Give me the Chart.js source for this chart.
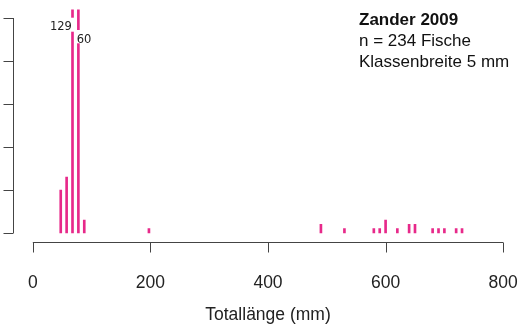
<!DOCTYPE html>
<html>
<head>
<meta charset="utf-8">
<script src="https://cdn.jsdelivr.net/npm/chart.js@4/dist/chart.umd.min.js"></script>
<style>
  html, body { margin: 0; padding: 0; background: #ffffff; }
  #wrap { width: 526px; height: 328px; position: relative; }
</style>
</head>
<body>
<div id="wrap"><canvas id="chart"></canvas></div>
<script>
// Length classes (class midpoints, mm) and number of fish per class
const lengthsMm = [47.5, 57.5, 67.5, 77.5, 87.5, 197.5, 490, 530, 580, 590, 600, 620, 640, 650, 680, 690, 700, 720, 730];
const fishCounts = [10, 13, 129, 60, 3, 1, 2, 1, 1, 1, 3, 1, 2, 2, 1, 1, 1, 1, 1];
const xTickValues = [0, 200, 400, 600, 800];
const yTickValues = [0, 10, 20, 30, 40, 50];
const headerLines = ['Zander 2009', 'n = 234 Fische', 'Klassenbreite 5 mm'];
const xTitle = 'Totallänge (mm)';

const BAR_COLOR = '#E7298A';
const AXIS_COLOR = '#444444';
const TEXT_COLOR = '#222222';
const FONT = '"Liberation Sans", Arial, Helvetica, sans-serif';

// Axis lines and tick marks that span only the tick range
const axesPlugin = {
  id: 'rAxes',
  afterDraw(chart) {
    const { ctx, chartArea, scales } = chart;
    const xs = scales.x, ys = scales.y;
    ctx.save();
    ctx.strokeStyle = AXIS_COLOR;
    ctx.lineWidth = 1;
    // x axis
    const yb = Math.round(chartArea.bottom) + 0.5;
    ctx.beginPath();
    ctx.moveTo(xs.getPixelForValue(xTickValues[0]), yb);
    ctx.lineTo(xs.getPixelForValue(xTickValues[xTickValues.length - 1]), yb);
    xTickValues.forEach(v => {
      const px = Math.round(xs.getPixelForValue(v)) + 0.5;
      ctx.moveTo(px, yb);
      ctx.lineTo(px, yb + 10);
    });
    ctx.stroke();
    // y axis
    const xl = Math.round(chartArea.left) - 0.5;
    ctx.beginPath();
    ctx.moveTo(xl, ys.getPixelForValue(yTickValues[0]));
    ctx.lineTo(xl, ys.getPixelForValue(yTickValues[yTickValues.length - 1]));
    yTickValues.forEach(v => {
      const py = Math.round(ys.getPixelForValue(v)) + 0.5;
      ctx.moveTo(xl, py);
      ctx.lineTo(xl - 10, py);
    });
    ctx.stroke();

    // header text, top right
    ctx.fillStyle = '#111111';
    ctx.textBaseline = 'alphabetic';
    ctx.textAlign = 'left';
    ctx.font = 'bold 17px ' + FONT;
    ctx.fillText(headerLines[0], 359, 25);
    ctx.font = '17px ' + FONT;
    ctx.fillText(headerLines[1], 359, 45.7);
    ctx.fillText(headerLines[2], 359, 66.7);
    ctx.restore();
  },
  // value labels for the two bars that run off the top
  afterDatasetsDraw(chart) {
    const { ctx, scales } = chart;
    const xs = scales.x, ys = scales.y;
    const anchor = ys.getPixelForValue(yTickValues[yTickValues.length - 1]);
    const b1 = xs.getPixelForValue(lengthsMm[2]);
    const b2 = xs.getPixelForValue(lengthsMm[3]);
    ctx.save();
    ctx.fillStyle = '#ffffff';
    ctx.fillRect(b1 - 24, anchor - 0.3, 26.5, 14);
    ctx.fillRect(b2 - 2.4, anchor + 12, 14, 13.3);
    ctx.fillStyle = TEXT_COLOR;
    ctx.font = '11.5px "DejaVu Sans", Verdana, sans-serif';
    ctx.textBaseline = 'alphabetic';
    ctx.textAlign = 'right';
    ctx.fillText(String(fishCounts[2]), b1 - 0.6, anchor + 12);
    ctx.textAlign = 'left';
    ctx.fillText(String(fishCounts[3]), b2 - 1.6, anchor + 24.7);
    ctx.restore();
  }
};

new Chart(document.getElementById('chart'), {
  type: 'bar',
  data: {
    datasets: [{
      data: lengthsMm.map((x, i) => ({ x: x, y: fishCounts[i] })),
      backgroundColor: BAR_COLOR,
      borderWidth: 0,
      barThickness: 2,
      clip: 0
    }]
  },
  options: {
    responsive: true,
    maintainAspectRatio: false,
    animation: false,
    devicePixelRatio: 1,
    layout: { padding: { top: 9.4, right: 4, left: 0, bottom: 0 } },
    plugins: { legend: { display: false }, tooltip: { enabled: false } },
    scales: {
      x: {
        type: 'linear',
        offset: false,
        min: -32,
        max: 832,
        grid: { display: false, offset: false },
        border: { display: false },
        afterBuildTicks(scale) { scale.ticks = xTickValues.map(v => ({ value: v })); },
        afterFit(scale) {
          scale.height = 86.4;
          scale.paddingLeft = 0;
          scale.paddingRight = 0;
        },
        ticks: {
          autoSkip: false,
          maxRotation: 0,
          padding: 22.7,
          color: TEXT_COLOR,
          font: { family: FONT, size: 17.5 }
        },
        title: {
          display: true,
          text: xTitle,
          color: TEXT_COLOR,
          font: { family: FONT, size: 17.5 },
          padding: { top: 0, bottom: 2.6 }
        }
      },
      y: {
        type: 'linear',
        min: -2,
        max: 52,
        grid: { display: false },
        border: { display: false },
        afterBuildTicks(scale) { scale.ticks = yTickValues.map(v => ({ value: v })); },
        afterFit(scale) {
          scale.width = 14;
          scale.paddingTop = 0;
          scale.paddingBottom = 0;
        },
        ticks: { display: false }
      }
    }
  },
  plugins: [axesPlugin]
});
</script>
</body>
</html>
